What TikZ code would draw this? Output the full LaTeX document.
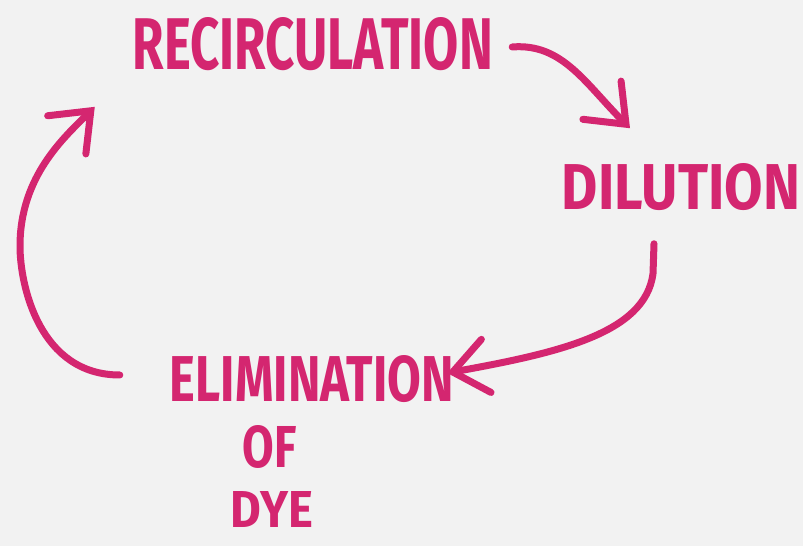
\documentclass[tikz,border=0pt]{standalone}
\usepackage{fontspec}
\setmainfont{Fira Sans}
\usepackage{graphicx}
\usetikzlibrary{arrows.meta}
\definecolor{ink}{RGB}{212,38,112}
\definecolor{paper}{RGB}{242,242,242}
\begin{document}
\begin{tikzpicture}[x=1pt, y=1pt,
        word/.style={text=ink, inner sep=0pt, font=\bfseries},
        flow/.style={draw=ink, line width=7pt, line cap=round, line join=round,
            -{Straight Barb[length=34pt, width=54pt, line cap=round]}}]
            \fill[paper] (0,0) rectangle (803,546);

            \node[word] (recirc) at (313,502) {\resizebox{360pt}{52pt}{RECIRCULATION}};
            \node[word] (dilution) at (681,359) {\resizebox{238pt}{46pt}{DILUTION}};
            \node[word] (elim) at (312,167) {\resizebox{284pt}{46pt}{ELIMINATION}};
            \node[word] (of) at (270,99) {\resizebox{54pt}{42pt}{OF}};
            \node[word] (dye) at (272,36) {\resizebox{82pt}{36pt}{DYE}};

            \draw[flow] ([shift={(19pt,-3pt)}]recirc.east)
                .. controls +(50,4) and +(-45,45) .. ([shift={(-51pt,35pt)}]dilution.north);
            \draw[flow] ([shift={(-27pt,-33pt)}]dilution.south) -- +(-1,-30)
                .. controls +(-8,-60) and +(110,20) .. ([shift={(-7pt,6pt)}]elim.east);
            \draw[flow] ([shift={(-50pt,4pt)}]elim.west)
                .. controls +(-80,0) and +(0,-40) .. (20,300)
                .. controls +(0,70) and +(-30,-30) .. ([shift={(-38pt,-36pt)}]recirc.south west);
        \end{tikzpicture}
\end{document}
